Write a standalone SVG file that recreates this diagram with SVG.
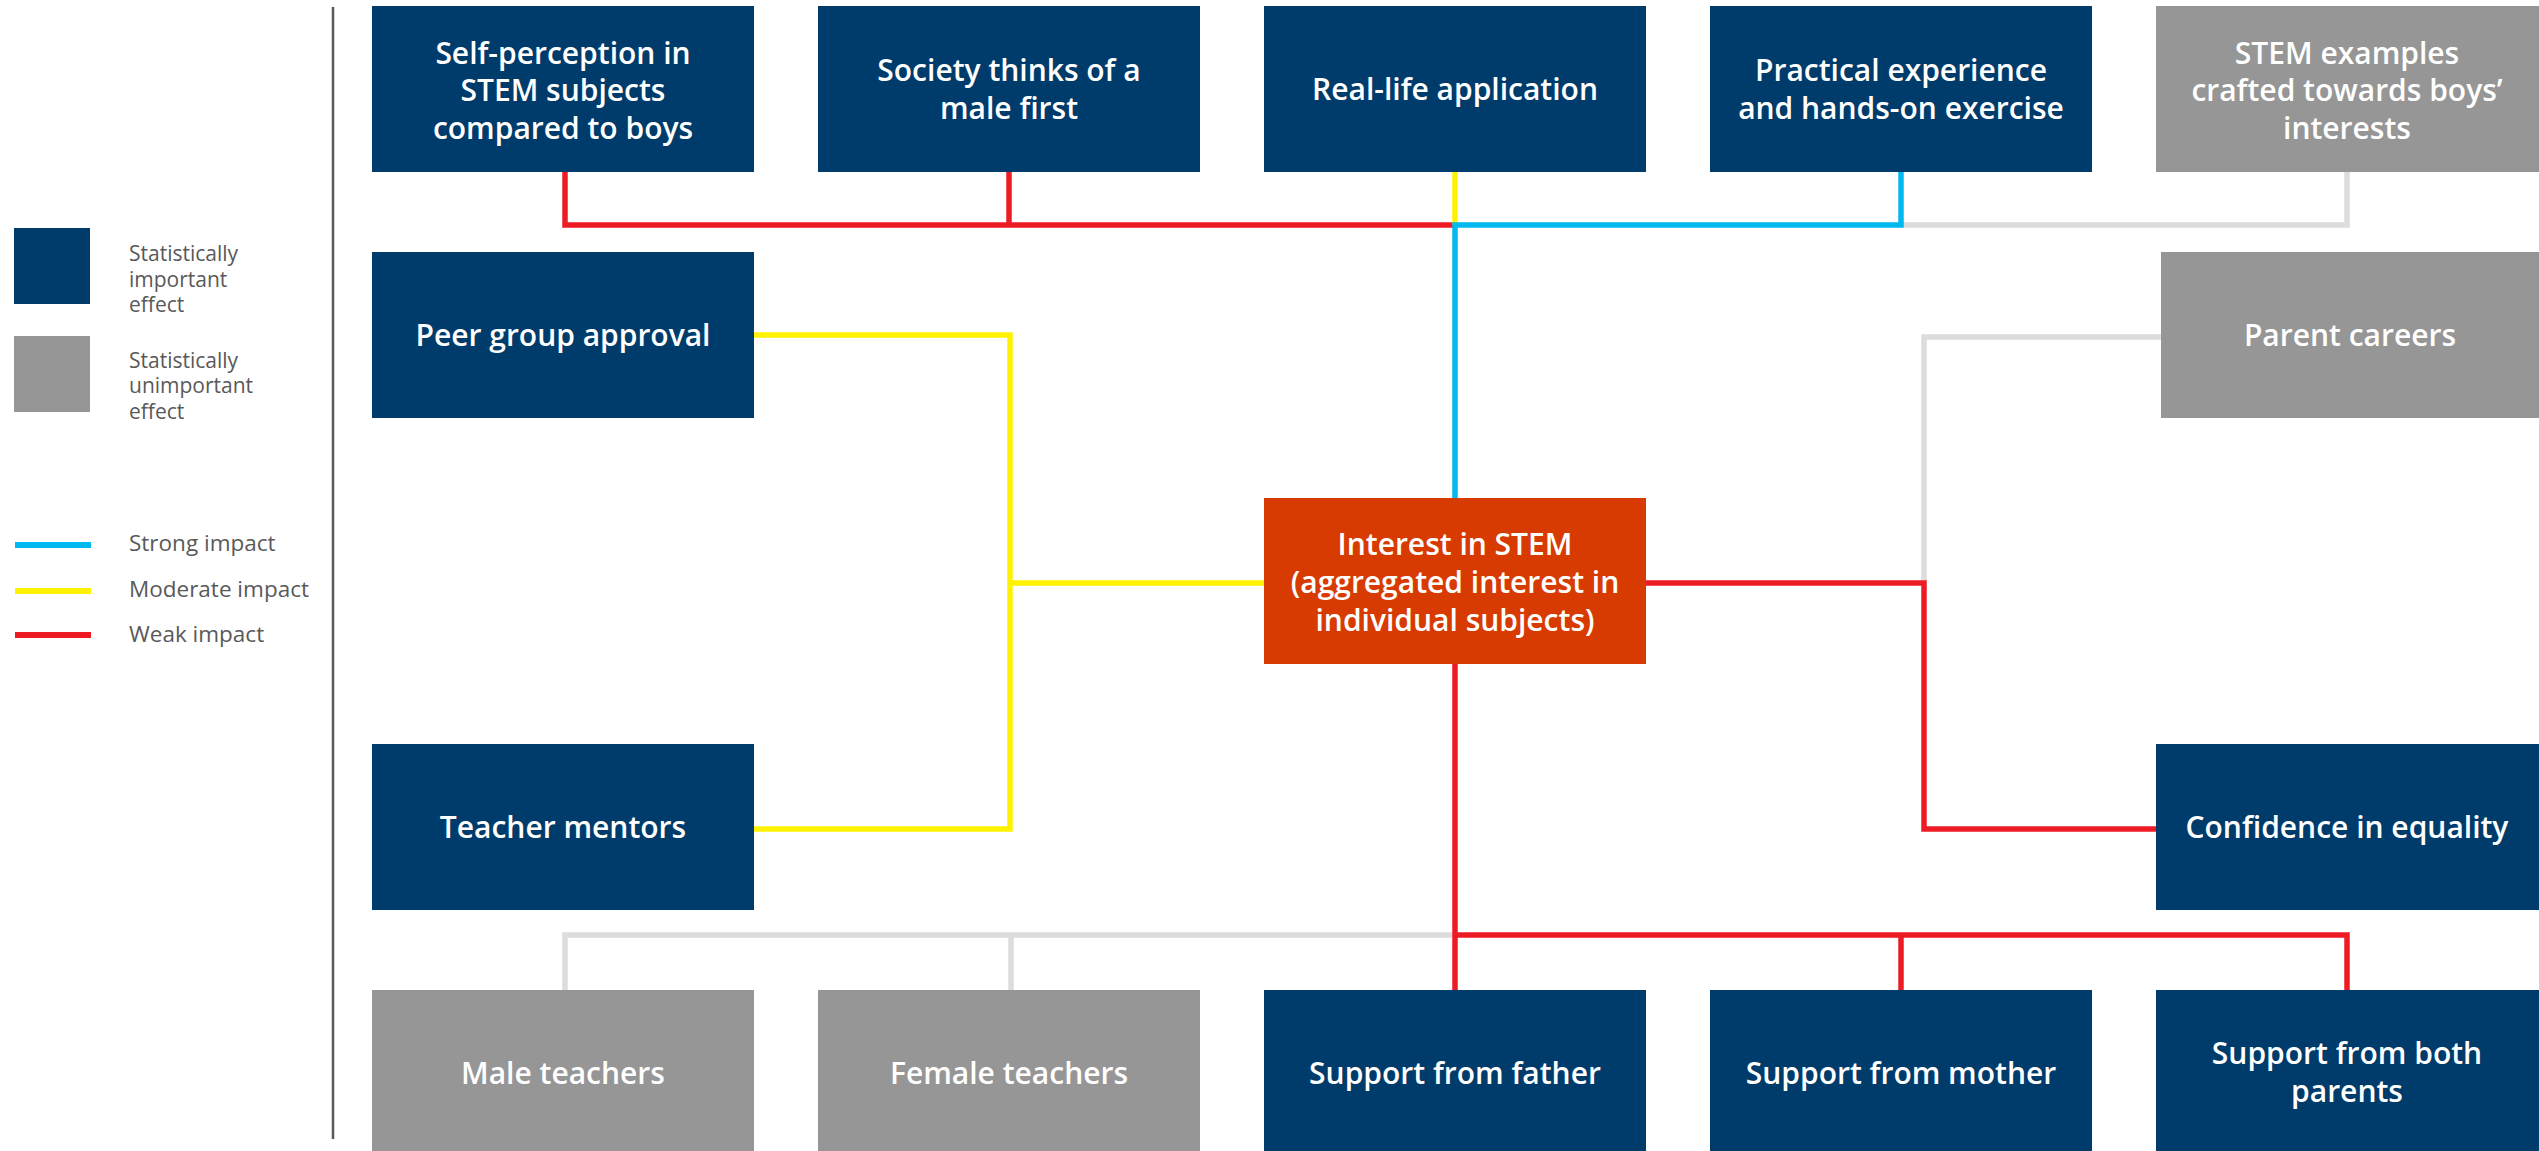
<svg xmlns="http://www.w3.org/2000/svg" width="2539" height="1151" viewBox="0 0 2539 1151">
<style>
.navy{fill:#003C6B}
.grey{fill:#969696}
.orange{fill:#D83B01}
.lbl{font-family:"Open Sans","Noto Sans",sans-serif;font-weight:600;font-size:30px;fill:#FFFFFF;text-anchor:middle}
.leg{font-family:"Open Sans","Noto Sans",sans-serif;font-size:22.5px;fill:#595959}
.legs{font-family:"Open Sans","Noto Sans",sans-serif;font-size:21px;fill:#595959}
.c{fill:none;stroke-width:5.5;stroke-linejoin:miter}
.red{stroke:#ED1C24}
.yel{stroke:#FFF200}
.blu{stroke:#00B9F1}
.gry{stroke:#DCDCDC}
</style>
<rect width="2539" height="1151" fill="#FFFFFF"/>
<g id="legend">
<rect x="14" y="228" width="76" height="76" class="navy"/>
<text class="legs" x="129" y="261">Statistically</text>
<text class="legs" x="129" y="287">important</text>
<text class="legs" x="129" y="312">effect</text>
<rect x="14" y="336" width="76" height="76" class="grey"/>
<text class="legs" x="129" y="368">Statistically</text>
<text class="legs" x="129" y="393">unimportant</text>
<text class="legs" x="129" y="419">effect</text>
<line x1="15" y1="545" x2="91" y2="545" stroke="#00B9F1" stroke-width="6"/>
<text class="leg" x="129" y="551">Strong impact</text>
<line x1="15" y1="591" x2="91" y2="591" stroke="#FFF200" stroke-width="6"/>
<text class="leg" x="129" y="597">Moderate impact</text>
<line x1="15" y1="635" x2="91" y2="635" stroke="#ED1C24" stroke-width="6"/>
<text class="leg" x="129" y="642">Weak impact</text>
<line x1="333" y1="7" x2="333" y2="1139" stroke="#595959" stroke-width="2.5"/>
</g>
<g id="connectors">
<path class="c gry" d="M2347,172 V225 H1901"/>
<path class="c red" d="M565,172 V225 H1455 M1009,172 V225"/>
<path class="c yel" d="M1455,172 V225"/>
<path class="c blu" d="M1901,172 V225 H1455 V498"/>
<path class="c yel" d="M754,335 H1010 V829 H754 M1010,583 H1264"/>
<path class="c gry" d="M2161,337 H1924 V583"/>
<path class="c red" d="M1646,583 H1924 V829 H2156"/>
<path class="c gry" d="M565,990 V935 H1455 M1011,935 V990"/>
<path class="c red" d="M1455,664 V990 M1455,935 H2347 V990 M1901,935 V990"/>
</g>
<g id="n1"><rect x="372" y="6" width="382" height="166" class="navy"/>
<text class="lbl" x="563" y="64">Self-perception in</text><text class="lbl" x="563" y="101">STEM subjects</text><text class="lbl" x="563" y="139">compared to boys</text></g>
<g id="n2"><rect x="818" y="6" width="382" height="166" class="navy"/>
<text class="lbl" x="1009" y="81">Society thinks of a</text><text class="lbl" x="1009" y="119">male first</text></g>
<g id="n3"><rect x="1264" y="6" width="382" height="166" class="navy"/>
<text class="lbl" x="1455" y="100">Real-life application</text></g>
<g id="n4"><rect x="1710" y="6" width="382" height="166" class="navy"/>
<text class="lbl" x="1901" y="81">Practical experience</text><text class="lbl" x="1901" y="119">and hands-on exercise</text></g>
<g id="n5"><rect x="2156" y="6" width="383" height="166" class="grey"/>
<text class="lbl" x="2347" y="64">STEM examples</text><text class="lbl" x="2347" y="101">crafted towards boys’</text><text class="lbl" x="2347" y="139">interests</text></g>
<g id="n6"><rect x="372" y="252" width="382" height="166" class="navy"/>
<text class="lbl" x="563" y="346">Peer group approval</text></g>
<g id="n7"><rect x="2161" y="252" width="378" height="166" class="grey"/>
<text class="lbl" x="2350" y="346">Parent careers</text></g>
<g id="center"><rect x="1264" y="498" width="382" height="166" class="orange"/>
<text class="lbl" x="1455" y="555">Interest in STEM</text><text class="lbl" x="1455" y="593">(aggregated interest in</text><text class="lbl" x="1455" y="631">individual subjects)</text></g>
<g id="n8"><rect x="372" y="744" width="382" height="166" class="navy"/>
<text class="lbl" x="563" y="838">Teacher mentors</text></g>
<g id="n9"><rect x="2156" y="744" width="383" height="166" class="navy"/>
<text class="lbl" x="2347" y="838">Confidence in equality</text></g>
<g id="n10"><rect x="372" y="990" width="382" height="166" class="grey"/>
<text class="lbl" x="563" y="1084">Male teachers</text></g>
<g id="n11"><rect x="818" y="990" width="382" height="166" class="grey"/>
<text class="lbl" x="1009" y="1084">Female teachers</text></g>
<g id="n12"><rect x="1264" y="990" width="382" height="166" class="navy"/>
<text class="lbl" x="1455" y="1084">Support from father</text></g>
<g id="n13"><rect x="1710" y="990" width="382" height="166" class="navy"/>
<text class="lbl" x="1901" y="1084">Support from mother</text></g>
<g id="n14"><rect x="2156" y="990" width="383" height="166" class="navy"/>
<text class="lbl" x="2347" y="1064">Support from both</text><text class="lbl" x="2347" y="1102">parents</text></g>
</svg>
